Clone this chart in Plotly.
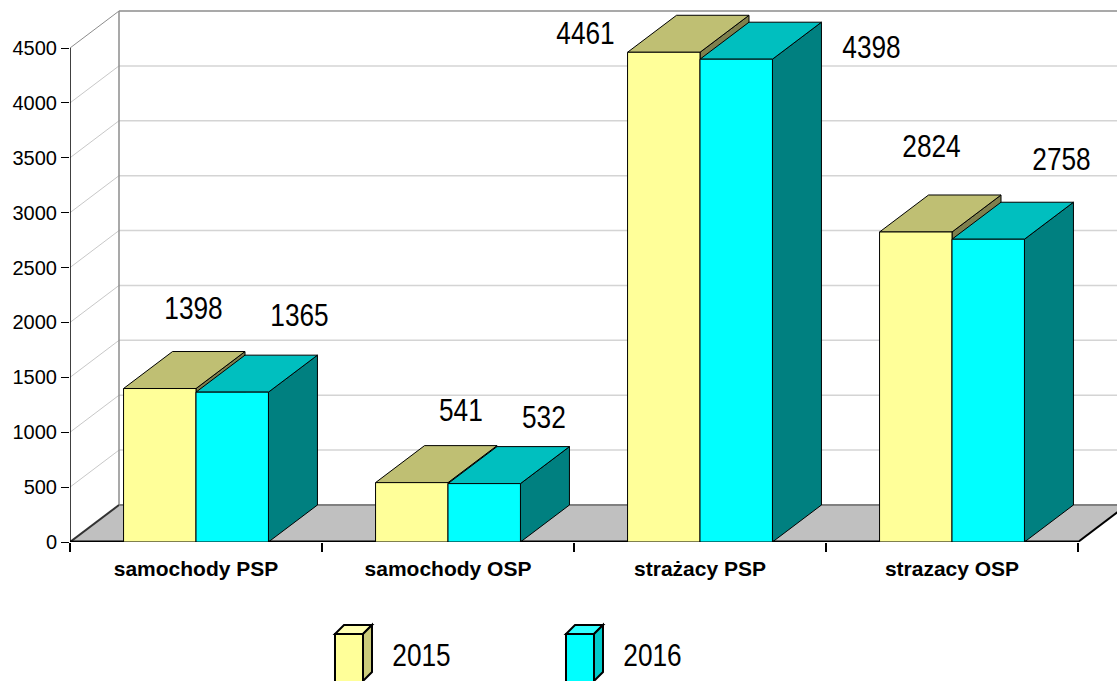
import plotly.graph_objects as go

categories = ["samochody PSP", "samochody OSP", "strażacy PSP", "strazacy OSP"]
series_names = ["2015", "2016"]
values_2015 = [1398, 541, 4461, 2824]
values_2016 = [1365, 532, 4398, 2758]
y_ticks = [0, 500, 1000, 1500, 2000, 2500, 3000, 3500, 4000, 4500]

# label offsets from the top-centre of each bar, pixels (right, up)
label_shift_2015 = [(34, 80), (49, 72), (-78, 19), (16, 85)]
label_shift_2016 = [(67, 77), (60, 66), (135, 12), (73, 80)]

W, H = 1117, 681
L, BOTTOM = 70, 542
PX_PER_CAT = 252.0
PX_PER_UNIT = 494 / 4500
DEPTH_X = 49 / PX_PER_CAT
DEPTH_Y = 37 / PX_PER_UNIT
GAP = 0.425
BAR_W = (1 - GAP) / 2
X0, X1 = -0.5, (W - L) / PX_PER_CAT - 0.5
Y1 = BOTTOM / PX_PER_UNIT
FONT = "Liberation Sans, Arial, sans-serif"

colors = [
    dict(front="#FFFF99", top="#BFBF73", side="#7F7F4D", ltop="#FFFFB3", lside="#CCCC7A"),
    dict(front="#00FFFF", top="#00BFBF", side="#008080", ltop="#33FFFF", lside="#00CCCC"),
]
series = [values_2015, values_2016]
fig = go.Figure()


def poly(xs, ys, fill, line="#000000", width=1):
    fig.add_trace(go.Scatter(x=xs, y=ys, mode="lines", fill="toself", fillcolor=fill,
                             line=dict(color=line, width=width), hoverinfo="skip",
                             showlegend=False, cliponaxis=True))


def seg(xs, ys, color, width=1, clip=True):
    fig.add_trace(go.Scatter(x=xs, y=ys, mode="lines", line=dict(color=color, width=width),
                             hoverinfo="skip", showlegend=False, cliponaxis=clip))


# back wall grid and side wall grid
for t in y_ticks[1:]:
    back = "#8C8C8C" if t == y_ticks[-1] else "#D4D4D4"
    side = "#8C8C8C" if t == y_ticks[-1] else "#C8C8C8"
    seg([X0 + DEPTH_X, X1], [t + DEPTH_Y] * 2, back, 1.5)
    seg([X0, X0 + DEPTH_X], [t, t + DEPTH_Y], side, 1, clip=False)
seg([X0 + DEPTH_X] * 2, [DEPTH_Y, y_ticks[-1] + DEPTH_Y], "#8C8C8C", 1.5)

# floor
floor_right = 3.5 + DEPTH_X
poly([X0, X0 + DEPTH_X, floor_right, 3.5, X0], [0, DEPTH_Y, DEPTH_Y, 0, 0], "#C0C0C0", "rgba(0,0,0,0)", 0)
seg([X0, X0 + DEPTH_X], [0, DEPTH_Y], "#333333", 2, clip=False)
seg([3.5, floor_right], [0, DEPTH_Y], "#000000", 2)
seg([X0 + DEPTH_X, floor_right], [DEPTH_Y, DEPTH_Y], "#808080", 2)

# 3D faces of the bars, computed from the values
for i in range(len(categories)):
    for j, vals in enumerate(series):
        v = vals[i]
        l = i - 0.5 + GAP / 2 + j * BAR_W
        r = l + BAR_W
        c = colors[j]
        poly([r, r + DEPTH_X, r + DEPTH_X, r, r], [0, DEPTH_Y, v + DEPTH_Y, v, 0], c["side"])
        poly([l, r, r + DEPTH_X, l + DEPTH_X, l], [v, v, v + DEPTH_Y, v + DEPTH_Y, v], c["top"])

# axis lines
seg([X0, X0], [0, y_ticks[-1]], "#000000", 1.5, clip=False)
seg([X0, 3.5], [0, 0], "#000000", 3, clip=False)

# bar fronts, on an overlaid pair of axes so they sit above the faces
for j, vals in enumerate(series):
    fig.add_trace(go.Bar(x=list(range(len(categories))), y=vals, name=series_names[j],
                         marker=dict(color=colors[j]["front"], line=dict(color="#000000", width=1)),
                         xaxis="x2", yaxis="y2", showlegend=False))

annotations = []
for j, vals in enumerate(series):
    shifts = [label_shift_2015, label_shift_2016][j]
    for i, v in enumerate(vals):
        annotations.append(dict(x=i - 0.5 + GAP / 2 + (j + 0.5) * BAR_W, y=v, xref="x", yref="y",
                                text=str(v), showarrow=False, xshift=shifts[i][0], yshift=shifts[i][1],
                                font=dict(family=FONT, size=31, color="#000000")))


def px(x):
    return (x - L) / (W - L)


def py(y):
    return (BOTTOM - y) / BOTTOM


def pshape(points, fill):
    path = "M" + "L".join(f"{px(x):.5f},{py(y):.5f}" for x, y in points) + "Z"
    return dict(type="path", xref="paper", yref="paper", path=path, fillcolor=fill,
                line=dict(color="#000000", width=2), layer="above")


shapes = []
for j, x0 in enumerate([335, 566]):
    c = colors[j]
    shapes.append(pshape([(x0, 634), (x0 + 28, 634), (x0 + 37, 625), (x0 + 9, 625)], c["ltop"]))
    shapes.append(pshape([(x0 + 28, 634), (x0 + 37, 625), (x0 + 37, 672), (x0 + 28, 681)], c["lside"]))
    shapes.append(pshape([(x0, 634), (x0 + 28, 634), (x0 + 28, 684), (x0, 684)], c["front"]))
    annotations.append(dict(x=px(x0 + 86.5), y=py(655), xref="paper", yref="paper", text=series_names[j],
                            xanchor="center", yanchor="middle",
                            showarrow=False, font=dict(family=FONT, size=31, color="#000000")))

fig.update_layout(
    width=W, height=H, margin=dict(l=L, r=0, t=0, b=H - BOTTOM),
    paper_bgcolor="#FFFFFF", plot_bgcolor="#FFFFFF", showlegend=False,
    barmode="group", bargap=GAP, bargroupgap=0,
    font=dict(family=FONT, color="#000000"),
    annotations=annotations, shapes=shapes,
    xaxis=dict(range=[X0, X1], tickmode="array", tickvals=list(range(len(categories))),
               ticktext=[f"<b>{c}</b>" for c in categories],
               tickfont=dict(family=FONT, size=21, color="#000000"), ticks="", ticklen=0, showgrid=False,
               ticklabelstandoff=12,
               zeroline=False, showline=False, fixedrange=True,
               minor=dict(tickmode="array", tickvals=[-0.5, 0.5, 1.5, 2.5, 3.5], ticks="outside",
                          ticklen=9, tickwidth=2, tickcolor="#000000", showgrid=False)),
    yaxis=dict(range=[0, Y1], tickmode="array", tickvals=y_ticks, ticks="outside", ticklen=8, tickwidth=1,
               tickcolor="#000000", tickfont=dict(family=FONT, size=20, color="#000000"),
               showgrid=False, zeroline=False, showline=False, fixedrange=True),
    xaxis2=dict(range=[X0, X1], overlaying="x", visible=False, fixedrange=True),
    yaxis2=dict(range=[0, Y1], overlaying="y", visible=False, fixedrange=True),
)

# The reference's big labels are a condensed face; squeeze the real text to the same widths.
squeeze = """
document.body.style.margin='0';document.body.style.overflow='hidden';
document.querySelectorAll('.annotation-text').forEach(function(t){
  var n=t.textContent.length;
  t.setAttribute('lengthAdjust','spacingAndGlyphs');
  t.setAttribute('textLength',String(n*14.6));
});
"""
fig.write_html("out.html", post_script=squeeze, config=dict(displayModeBar=False))
